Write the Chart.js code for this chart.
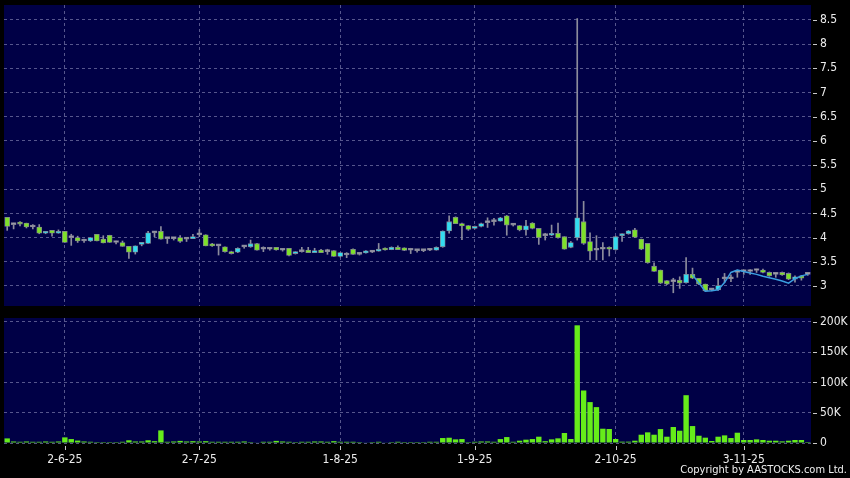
<!DOCTYPE html>
<html>
<head>
<meta charset="utf-8">
<script src="https://cdn.jsdelivr.net/npm/chart.js@4.4.1/dist/chart.umd.min.js"></script>
<style>
  html, body { margin: 0; padding: 0; background: #000; }
  #wrap { position: relative; width: 850px; height: 478px; overflow: hidden; background: #000; }
  #priceChart { position: absolute; left: 0; top: 0; }
  #volChart { position: absolute; left: 0; top: 311px; }
  #copy { position: absolute; right: 3px; top: 463px; color: #f0f0f0;
          font: 11px "DejaVu Sans Condensed", "DejaVu Sans", sans-serif; }
</style>
</head>
<body>
<div id="wrap">
  <canvas id="priceChart" width="850" height="311"></canvas>
  <canvas id="volChart" width="850" height="167"></canvas>
  <div id="copy">Copyright by AASTOCKS.com Ltd.</div>
</div>
<script>
// trading days (HK), d-m-yy
const firstDay = '2025-05-20';
const dayCount = 126;
const holidays = ['1-7-25', '1-10-25', '7-10-25', '29-10-25'];
const tickLabels = ['2-6-25', '2-7-25', '1-8-25', '1-9-25', '2-10-25', '3-11-25'];

// price (OHLC)
const openP = [
  4.42, 4.27, 4.31, 4.30, 4.22, 4.22, 4.09, 4.15, 4.09, 4.13,
  4.00, 4.00, 3.93, 3.93, 4.07, 3.97, 4.05, 3.90, 3.90, 3.82,
  3.70, 3.86, 3.88, 4.10, 4.13, 3.98, 3.98, 4.00, 3.97, 3.98,
  4.06, 4.06, 3.87, 3.83, 3.81, 3.71, 3.70, 3.81, 3.81, 3.875,
  3.76, 3.76, 3.80, 3.74, 3.78, 3.67, 3.71, 3.745, 3.69, 3.745,
  3.71, 3.73, 3.61, 3.64, 3.76, 3.655, 3.685, 3.70, 3.72, 3.78,
  3.75, 3.80, 3.79, 3.74, 3.73, 3.73, 3.74, 3.74, 3.81, 4.14,
  4.42, 4.29, 4.25, 4.19, 4.23, 4.31, 4.33, 4.34, 4.45, 4.26,
  4.25, 4.16, 4.30, 4.19, 4.04, 4.05, 4.09, 4.02, 3.80, 4.00,
  4.33, 3.92, 3.74, 3.76, 3.78, 3.75, 4.04, 4.08, 4.16, 3.97,
  3.88, 3.41, 3.33, 3.11, 3.09, 3.12, 3.07, 3.24, 3.16, 3.04,
  2.92, 2.92, 3.15, 3.15, 3.28, 3.30, 3.30, 3.32, 3.33, 3.28,
  3.24, 3.28, 3.26, 3.14, 3.21, 3.24
];
const highP = [
  4.42, 4.30, 4.33, 4.30, 4.27, 4.27, 4.13, 4.15, 4.16, 4.13,
  4.07, 4.03, 3.97, 4.00, 4.07, 4.04, 4.05, 3.93, 3.93, 3.82,
  3.83, 3.90, 4.13, 4.13, 4.23, 4.00, 4.00, 4.04, 4.00, 4.07,
  4.17, 4.06, 3.88, 3.84, 3.81, 3.72, 3.79, 3.83, 3.95, 3.88,
  3.81, 3.78, 3.80, 3.76, 3.78, 3.71, 3.80, 3.80, 3.78, 3.76,
  3.76, 3.73, 3.69, 3.69, 3.77, 3.67, 3.73, 3.73, 3.88, 3.79,
  3.81, 3.83, 3.79, 3.78, 3.75, 3.75, 3.76, 3.81, 4.14, 4.45,
  4.43, 4.30, 4.25, 4.24, 4.30, 4.41, 4.40, 4.42, 4.46, 4.28,
  4.25, 4.36, 4.31, 4.19, 4.09, 4.26, 4.30, 4.02, 3.92, 8.53,
  4.75, 4.10, 4.04, 3.90, 3.81, 4.03, 4.08, 4.15, 4.19, 3.97,
  3.88, 3.48, 3.33, 3.11, 3.16, 3.19, 3.59, 3.37, 3.16, 3.04,
  2.94, 3.16, 3.26, 3.23, 3.33, 3.33, 3.34, 3.35, 3.35, 3.29,
  3.27, 3.29, 3.27, 3.21, 3.22, 3.26
];
const lowP = [
  4.15, 4.18, 4.24, 4.20, 4.18, 4.08, 4.08, 4.03, 4.09, 3.90,
  3.84, 3.90, 3.90, 3.92, 3.93, 3.89, 3.90, 3.87, 3.82, 3.57,
  3.66, 3.83, 3.88, 4.02, 3.97, 3.88, 3.95, 3.90, 3.92, 3.98,
  4.02, 3.83, 3.82, 3.64, 3.70, 3.66, 3.69, 3.78, 3.80, 3.74,
  3.71, 3.74, 3.74, 3.72, 3.62, 3.66, 3.70, 3.69, 3.69, 3.69,
  3.655, 3.61, 3.60, 3.585, 3.655, 3.64, 3.68, 3.69, 3.72, 3.74,
  3.75, 3.75, 3.73, 3.67, 3.70, 3.71, 3.73, 3.74, 3.80, 4.09,
  4.29, 3.96, 4.15, 4.18, 4.22, 4.21, 4.26, 4.34, 4.05, 4.24,
  4.14, 4.05, 4.18, 3.86, 3.95, 4.04, 3.99, 3.76, 3.79, 3.95,
  3.86, 3.54, 3.54, 3.54, 3.62, 3.74, 3.92, 4.07, 4.00, 3.75,
  3.47, 3.30, 3.05, 3.03, 2.86, 2.95, 3.06, 3.15, 3.03, 2.89,
  2.90, 2.91, 3.07, 3.09, 3.18, 3.24, 3.24, 3.28, 3.27, 3.20,
  3.18, 3.22, 3.13, 3.08, 3.12, 3.22
];
const closeP = [
  4.23, 4.27, 4.28, 4.22, 4.22, 4.09, 4.12, 4.09, 4.12, 3.90,
  4.00, 3.93, 3.93, 4.00, 3.93, 3.89, 3.90, 3.90, 3.82, 3.70,
  3.83, 3.87, 4.10, 4.10, 3.97, 3.98, 3.98, 3.92, 3.97, 4.02,
  4.06, 3.83, 3.83, 3.83, 3.71, 3.67, 3.78, 3.81, 3.875, 3.74,
  3.76, 3.76, 3.745, 3.74, 3.63, 3.70, 3.71, 3.69, 3.72, 3.69,
  3.71, 3.61, 3.69, 3.64, 3.655, 3.655, 3.72, 3.70, 3.76, 3.745,
  3.80, 3.75, 3.735, 3.74, 3.73, 3.73, 3.74, 3.80, 4.135, 4.33,
  4.29, 4.24, 4.17, 4.23, 4.29, 4.31, 4.33, 4.41, 4.26, 4.26,
  4.16, 4.245, 4.19, 4.00, 4.04, 4.09, 4.00, 3.76, 3.90, 4.41,
  3.88, 3.72, 3.74, 3.76, 3.76, 4.02, 4.075, 4.14, 4.01, 3.76,
  3.48, 3.30, 3.06, 3.04, 3.09, 3.06, 3.24, 3.16, 3.04, 2.90,
  2.92, 3.01, 3.15, 3.15, 3.28, 3.30, 3.30, 3.32, 3.28, 3.21,
  3.24, 3.23, 3.14, 3.19, 3.16, 3.24
];

// overlay line, starts at trendStart
const trendStart = 107;
const trendLine = [3.23, 3.06, 2.89, 2.90, 2.92, 3.07, 3.28, 3.33, 3.30, 3.27,
                   3.24, 3.20, 3.17, 3.14, 3.105, 3.06, 3.15, 3.21, 3.24];

// volume, thousands
const volumeK = [
  7.6, 2.5, 2, 2.5, 2, 2, 2.5, 2, 2.5, 9.3,
  6.5, 4, 2.5, 2, 1.5, 1.5, 1.5, 1.5, 2, 4.5,
  2.5, 2.5, 4.5, 3, 20.8, 2, 2.5, 3.5, 2.5, 3,
  2.5, 3, 2, 2, 2, 2, 2, 2.5, 1.5, 1,
  2, 2, 3.5, 2.5, 2, 1.5, 2, 2, 2.5, 2.5,
  2, 3, 2, 2, 2, 1.5, 1, 1.5, 2, 1,
  1.5, 2, 1.5, 1.5, 1.5, 1.5, 2, 2, 8.2, 8.7,
  6, 6.5, 1.5, 2, 2.5, 2.5, 2, 6.5, 9.8, 2,
  3.8, 5.5, 6.5, 10.4, 3, 6, 7.7, 16.5, 6.6, 194.5,
  86.8, 67.6, 59.3, 23.6, 23.1, 6.6, 2.2, 2.2, 3.8, 13.7,
  17.6, 13.7, 23, 10.4, 26.4, 20.3, 79, 28, 12, 8.8,
  3.3, 10.4, 12.6, 8.2, 17, 5, 5, 6, 5, 3.8,
  3.8, 2.7, 3.8, 5, 5, 1.6
];

const priceTicks = [3, 3.5, 4, 4.5, 5, 5.5, 6, 6.5, 7, 7.5, 8, 8.5];
const volTicks = [0, 50, 100, 150, 200];

// ---- colours / fonts ----
const NAVY = '#000046';
const GRID = 'rgba(115,115,165,0.75)';
const UP = '#33dcf0';
const DOWN = '#7ee02a';
const FLAT = '#9a9aaa';
const WICK = '#8c8c9c';
const VOL = '#66ec1a';
const TXT = '#ececec';
const FONT = '"DejaVu Sans Condensed", "DejaVu Sans", sans-serif';

function buildDays() {
  const out = [];
  const d = new Date(firstDay + 'T12:00:00');
  while (out.length < dayCount) {
    const wd = d.getDay();
    const s = d.getDate() + '-' + (d.getMonth() + 1) + '-' + String(d.getFullYear()).slice(2);
    if (wd !== 0 && wd !== 6 && !holidays.includes(s)) out.push(s);
    d.setDate(d.getDate() + 1);
  }
  return out;
}
const categories = buildDays();
const tickIdx = tickLabels.map(l => categories.indexOf(l));

const panelPlugin = {
  id: 'panel',
  beforeDraw(chart) {
    const { ctx, chartArea: a } = chart;
    ctx.save();
    ctx.fillStyle = '#000';
    ctx.fillRect(0, 0, chart.width, chart.height);
    ctx.fillStyle = NAVY;
    ctx.fillRect(a.left, a.top, a.right - a.left, a.bottom - a.top);
    ctx.restore();
  },
  afterDraw(chart, args, opts) {
    const { ctx, chartArea: a, scales } = chart;
    ctx.save();
    ctx.strokeStyle = '#c8c8c8';
    ctx.lineWidth = 1;
    scales.y.ticks.forEach((t, i) => {
      const y = Math.round(scales.y.getPixelForTick(i)) + 0.5;
      ctx.beginPath();
      ctx.moveTo(a.right + 2, y);
      ctx.lineTo(a.right + 6, y);
      ctx.stroke();
    });
    if (opts.xMarks) {
      scales.x.ticks.forEach((t, i) => {
        const x = Math.round(scales.x.getPixelForTick(i)) + 0.5;
        ctx.beginPath();
        ctx.moveTo(x, a.bottom + 3);
        ctx.lineTo(x, a.bottom + 7);
        ctx.stroke();
      });
    }
    ctx.restore();
  }
};

function xScale(showLabels) {
  return {
    type: 'category',
    offset: true,
    afterBuildTicks: s => { s.ticks = tickIdx.map(v => ({ value: v })); },
    afterFit: s => { s.height = showLabels ? 35 : 5; },
    grid: { color: GRID, offset: false, drawTicks: false },
    border: { display: false, dash: [3, 3] },
    ticks: {
      display: showLabels, autoSkip: false, maxRotation: 0, padding: 10,
      color: TXT, font: { family: FONT, size: 12 }
    }
  };
}

function yScale(min, max, values, fmt) {
  return {
    position: 'right',
    min: min, max: max,
    afterBuildTicks: s => { s.ticks = values.map(v => ({ value: v })); },
    afterFit: s => { s.width = 39; },
    // tick marks drawn by the plugin; tickLength only pushes labels out
    grid: { color: GRID, drawTicks: true, tickLength: 9, tickColor: 'rgba(0,0,0,0)' },
    border: { display: false, dash: [3, 3] },
    ticks: { padding: 0, color: TXT, font: { family: FONT, size: 12, lineHeight: 0.8 }, callback: fmt }
  };
}

const common = {
  responsive: false,
  devicePixelRatio: 1,
  animation: false,
  events: [],
  plugins: { legend: { display: false }, tooltip: { enabled: false } }
};

// price panel
new Chart(document.getElementById('priceChart'), {
  data: {
    labels: categories,
    datasets: [
      {
        type: 'line',
        order: 0,
        data: categories.map((_, i) => i >= trendStart ? trendLine[i - trendStart] : null),
        borderColor: '#3a9ee0',
        borderWidth: 1.5,
        pointRadius: 0,
        tension: 0
      },
      {
        type: 'bar',
        order: 1,
        grouped: false,
        data: openP.map((o, i) => [Math.min(o, closeP[i]), Math.max(o, closeP[i])]),
        backgroundColor: openP.map((o, i) => closeP[i] > o ? UP : (closeP[i] < o ? DOWN : FLAT)),
        borderColor: '#808090',
        borderWidth: 0.8,
        borderSkipped: false,
        barThickness: 5,
        minBarLength: 2
      },
      {
        type: 'bar',
        order: 2,
        grouped: false,
        data: lowP.map((l, i) => [l, highP[i]]),
        backgroundColor: WICK,
        barThickness: 1,
        minBarLength: 1
      }
    ]
  },
  options: {
    ...common,
    layout: { padding: { left: 4, right: 0, top: 5, bottom: 0 } },
    plugins: { ...common.plugins, panel: { xMarks: false } },
    scales: {
      x: xScale(false),
      y: yScale(2.5864, 8.81, priceTicks, v => String(v))
    }
  },
  plugins: [panelPlugin]
});

// volume panel
new Chart(document.getElementById('volChart'), {
  type: 'bar',
  data: {
    labels: categories,
    datasets: [{
      data: volumeK,
      backgroundColor: VOL,
      barPercentage: 0.84,
      categoryPercentage: 1
    }]
  },
  options: {
    ...common,
    layout: { padding: { left: 4, right: 0, top: 7, bottom: 0 } },
    plugins: { ...common.plugins, panel: { xMarks: true } },
    scales: {
      x: xScale(true),
      y: yScale(0, 206.6, volTicks, v => v === 0 ? '0' : v + 'K')
    }
  },
  plugins: [panelPlugin]
});
</script>
</body>
</html>
